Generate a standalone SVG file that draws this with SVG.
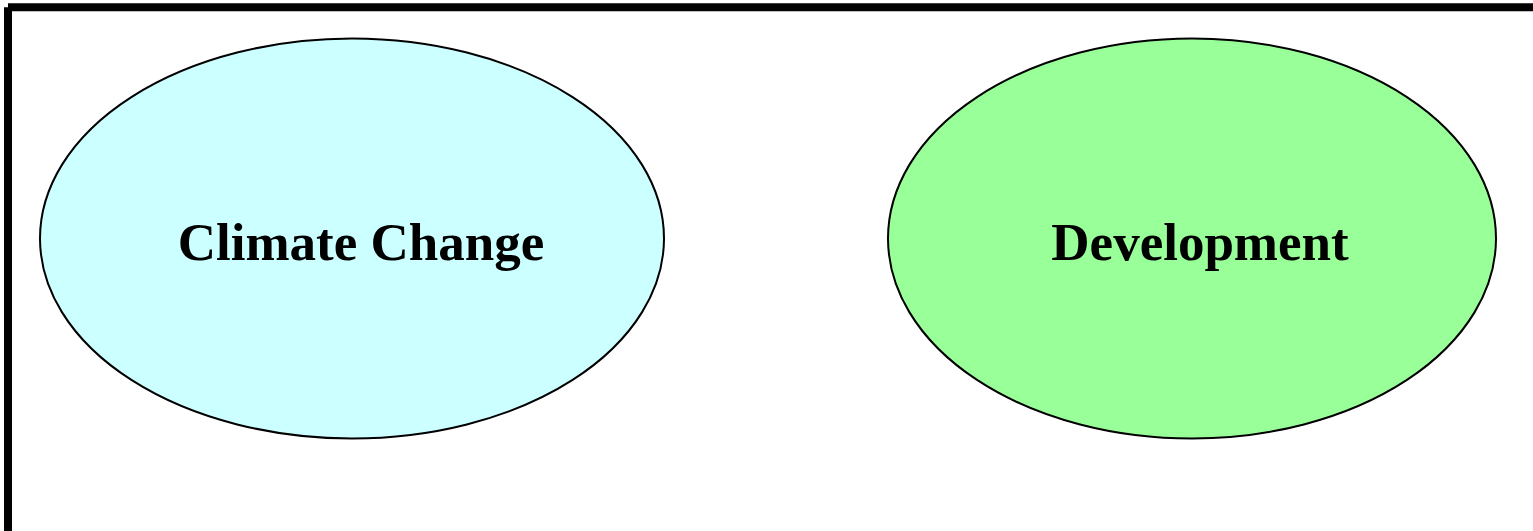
<svg xmlns="http://www.w3.org/2000/svg" width="1533" height="531" viewBox="0 0 1533 531">
<style>
.node ellipse{stroke:#000;stroke-width:2}
.node text{font-family:"Liberation Serif","Times New Roman",serif;font-weight:bold;font-size:53px;text-anchor:middle;fill:#000}
.frame{stroke:#000;stroke-width:8;fill:none;stroke-linecap:butt}
</style>
<rect width="1533" height="531" fill="#fff"/>
<g id="frame">
<line class="frame" x1="8" y1="7.3" x2="1533" y2="7.3"/>
<line class="frame" x1="8" y1="7.3" x2="8" y2="531"/>
</g>
<g id="connectors"></g>
<g id="climate-change" class="node">
<ellipse cx="352" cy="238.5" rx="312" ry="200" fill="#ccffff"/>
<text x="361" y="260">Climate Change</text>
</g>
<g id="development" class="node">
<ellipse cx="1192" cy="238.5" rx="304" ry="200" fill="#99ff99"/>
<text x="1200" y="260">Development</text>
</g>
</svg>
